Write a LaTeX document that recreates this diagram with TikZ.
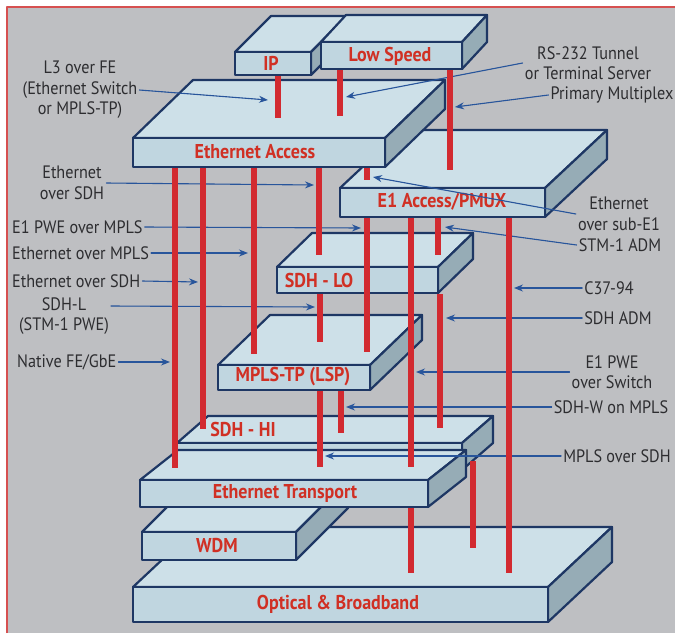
\documentclass[tikz,border=0pt]{standalone}
\usepackage{fontspec}
\setmainfont{PT Sans}[FakeStretch=0.9]
\usetikzlibrary{arrows.meta}
\definecolor{bggray}{RGB}{190,191,194}
\definecolor{frameRed}{RGB}{214,80,80}
\definecolor{slabTop}{RGB}{205,224,232}
\definecolor{slabFront}{RGB}{192,214,224}
\definecolor{slabSide}{RGB}{150,172,182}
\definecolor{slabLine}{RGB}{30,55,100}
\definecolor{barRed}{RGB}{210,42,48}
\definecolor{titleRed}{RGB}{208,48,36}
\definecolor{arrBlue}{RGB}{40,85,155}
\definecolor{lblGray}{RGB}{45,45,48}
% slab: x y (front top left), width, height, depth dx, depth dy
\newcommand{\slab}[6]{%
  \filldraw[slabtop] (#1,#2) -- ++(#5,-#6) -- ++(#3,0) -- ++(-#5,#6) -- cycle;
  \filldraw[slabside] ({#1+#3},#2) -- ++(#5,-#6) -- ++(0,#4) -- ++(-#5,#6) -- cycle;
  \filldraw[slabfront] (#1,#2) rectangle ++(#3,#4);
}
\begin{document}
\begin{tikzpicture}[x=1pt, y=-1pt, line join=round, line cap=round, >={Stealth[length=9pt,width=7pt]}]
\tikzset{
  slabtop/.style={fill=slabTop, draw=slabLine, line width=2.2pt},
  slabside/.style={fill=slabSide, draw=slabLine, line width=2.2pt},
  slabfront/.style={fill=slabFront, draw=slabLine, line width=2.2pt},
  title/.style={text=titleRed, font=\bfseries\fontsize{20}{22}\selectfont, inner sep=0pt},
  lbl/.style={text=lblGray, font=\fontsize{18}{20.5}\selectfont, align=center, inner sep=2pt},
  arr/.style={->, draw=arrBlue, fill=arrBlue, line width=1.1pt},
  bar/.style={draw=barRed, line width=6.5pt, line cap=butt}
}
\useasboundingbox (0,0) rectangle (675,633);
\fill[white] (0,0) rectangle (675,633);
\fill[bggray] (7,7) rectangle (675,633);
\draw[frameRed, line width=2.5pt, line cap=butt] (7,633) -- (7,7) -- (675,7);

\slab{133}{587}{415}{35}{64}{60}
\node[title] (tOB) at (338,604) {Optical \& Broadband};
\slab{142}{532}{154}{28}{52}{52}
\node[title] (tWDM) at (217,545) {WDM};
\slab{177}{443}{285}{27}{31}{27}
\node[title] (tHI) at (243,429) {SDH - HI};
\slab{140}{480}{288}{27}{38}{30}
\node[title] (tET) at (285,493) {Ethernet Transport};
\slab{218}{365}{152}{25}{52}{50}
\node[title] (tMP) at (293,377) {MPLS-TP (LSP)};
\slab{277}{267}{161}{26}{35}{34}
\node[title] (tLO) at (319,280) {SDH - LO};
\slab{340}{188}{205}{29}{62}{58}
\node[title] (tE1) at (442,202) {E1 Access/PMUX};
\slab{133}{138}{252}{29}{60}{58}
\node[title] (tEA) at (255,152) {Ethernet Access};
\slab{235}{52}{76}{23}{36}{36}
\node[title] (tIP) at (271,63) {IP};
\slab{321}{42}{141}{27}{25}{27}
\node[title] (tLS) at (390,56) {Low Speed};

\node[lbl] (lL3) at (80,90) {L3 over FE\\(Ethernet Switch\\or MPLS-TP)};
\node[lbl] (lEoSa) at (72,183) {Ethernet\\over SDH};
\node[lbl, anchor=west] (lE1M) at (10,227) {E1 PWE over MPLS};
\node[lbl, anchor=west] (lEoM) at (10,253) {Ethernet over MPLS};
\node[lbl, anchor=west] (lEoSb) at (10,281) {Ethernet over SDH};
\node[lbl] (lSDHL) at (64,316) {SDH-L\\(STM-1 PWE)};
\node[lbl, anchor=west] (lNat) at (15,362) {Native FE/GbE};
\node[lbl] (lRS) at (588,63) {RS-232 Tunnel\\or Terminal Server};
\node[lbl] (lPM) at (612,95) {Primary Multiplex};
\node[lbl] (lSub) at (619,214) {Ethernet\\over sub-E1};
\node[lbl] (lSTM) at (620,245) {STM-1 ADM};
\node[lbl] (lC37) at (609,288) {C37-94};
\node[lbl] (lADM) at (618,318) {SDH ADM};
\node[lbl] (lE1S) at (612,372) {E1 PWE\\over Switch};
\node[lbl] (lSDHW) at (611,407) {SDH-W on MPLS};
\node[lbl] (lMoS) at (617,456) {MPLS over SDH};

\coordinate (aL3) at (268,100);
\coordinate (aEoSa) at (314,185);
\coordinate (aE1M) at (361,228);
\coordinate (aEoM) at (248,253);
\coordinate (aEoSb) at (198,282);
\coordinate (aSDHL) at (315,307);
\coordinate (aNat) at (170,362);
\coordinate (aRS) at (346,97);
\coordinate (aPM) at (455,107);
\coordinate (aSub) at (373,177);
\coordinate (aSTM) at (445,227);
\coordinate (aC37) at (514,288);
\coordinate (aADM) at (446,318);
\coordinate (aE1S) at (416,372);
\coordinate (aSDHW) at (346,407);
\coordinate (aMoS) at (325,456);

\draw[arr] (lL3.east) -- (aL3);
\draw[arr] (lEoSa.east) -- (aEoSa);
\draw[arr] (lE1M.east) -- (aE1M);
\draw[arr] (lEoM.east) -- (aEoM);
\draw[arr] (lEoSb.east) -- (aEoSb);
\draw[arr] ([yshift=10pt]lSDHL.east) -- (aSDHL);
\draw[arr] (lNat.east) -- (aNat);
\draw[arr] (lRS.west) -- (aRS);
\draw[arr] (lPM.west) -- (aPM);
\draw[arr] (lSub.west) -- (aSub);
\draw[arr] (lSTM.west) -- (aSTM);
\draw[arr] (lC37.west) -- (aC37);
\draw[arr] (lADM.west) -- (aADM);
\draw[arr] (lE1S.west) -- (aE1S);
\draw[arr] (lSDHW.west) -- (aSDHW);
\draw[arr] (lMoS.west) -- (aMoS);

\foreach \x/\ya/\yb in {278/76/118, 340/70/116, 450/70/170, 175/168/468, 203/168/429,
  254/168/354, 319/168/255, 367/168/180, 367/218/352, 411/218/467, 411/508/573,
  438/218/255, 440/294/428, 509/218/573, 320/294/342, 320/391/467, 341/391/433, 473/461/548}
  \draw[bar] (\x,\ya) -- (\x,\yb);
\end{tikzpicture}
\end{document}
